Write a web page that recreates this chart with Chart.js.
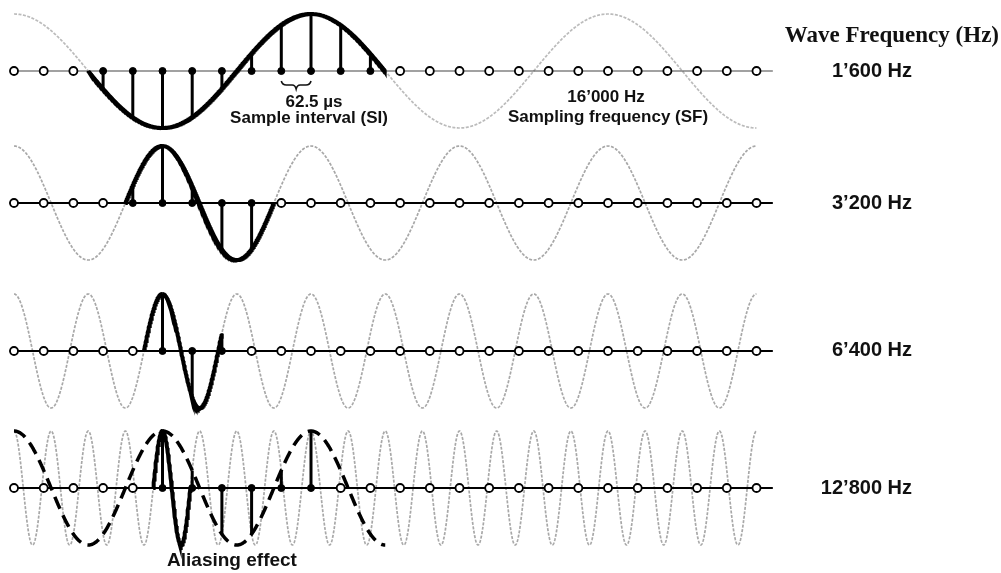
<!DOCTYPE html>
<html>
<head>
<meta charset="utf-8">
<script src="https://cdn.jsdelivr.net/npm/chart.js@4.4.1/dist/chart.umd.min.js"></script>
<style>
  body { margin: 0; background: #fff; }
  #wrap { width: 1001px; height: 573px; position: relative; }
</style>
</head>
<body>
<div id="wrap"><canvas id="aliasing"></canvas></div>
<script>
// sampling grid: 16'000 Hz -> one sample every 62.5 us
var samplingFreq = 16000;
var sampleIndex = [0, 1, 2, 3, 4, 5, 6, 7, 8, 9, 10, 11, 12, 13, 14, 15, 16, 17, 18, 19, 20, 21, 22, 23, 24, 25];

// the four test waves (one row each)
var waveFreqs = [1600, 3200, 6400, 12800];
var waveLabels = ['1\u2019600 Hz', '3\u2019200 Hz', '6\u2019400 Hz', '12\u2019800 Hz'];
// part of each wave drawn in bold, in sample units
var boldStart = [2.5, 3.75, 4.375, 4.6875];
var boldEnd = [12.5, 8.75, 7.0, 5.9375];
// samples shown with a stem and a filled dot
var sampledFirst = [3, 4, 5, 5];
var sampledLast = [12, 8, 7, 10];
// alias seen by the samples of the 12'800 Hz wave
var aliasFreq = 3200;
var aliasEnd = 12.5;

// layout (not data): row baselines in amplitude units
var rowBase = [0, -2.316, -4.912, -7.316];
var pxPerSample = 29.7, firstSamplePx = 14, pxPerUnit = 57, firstBasePx = 71;

function wave(f, t) {
    return Math.cos(2 * Math.PI * f / samplingFreq * t);
}

function curve(f, base, t0, t1) {
    var pts = [];
    var step = 0.01;
    for (var t = t0; t <= t1 + 1e-9; t += step) {
        pts.push({ x: t, y: base + wave(f, t) });
    }
    return pts;
}

var datasets = [];
waveFreqs.forEach(function (f, r) {
    var base = rowBase[r];
    var stems = [], filled = [], open = [];
    sampleIndex.forEach(function (k) {
        if (k >= sampledFirst[r] && k <= sampledLast[r]) {
            stems.push({ x: k, y: base }, { x: k, y: base + wave(f, k) }, { x: k, y: null });
            filled.push({ x: k, y: base });
        } else {
            open.push({ x: k, y: base });
        }
    });
    datasets.push({
        label: 'grey ' + f, data: curve(f, base, sampleIndex[0], sampleIndex[sampleIndex.length - 1]),
        borderColor: r === 0 ? 'rgba(120,120,120,0.5)' : 'rgba(110,110,110,0.6)',
        borderWidth: 1.7, borderDash: [3, 1.5], pointRadius: 0, order: 6
    });
    datasets.push({
        label: 'axis ' + f, data: [{ x: -0.15, y: base }, { x: 25.55, y: base }],
        borderColor: r === 0 ? '#444' : '#000', borderWidth: r === 0 ? 1.2 : 2, pointRadius: 0, order: 5
    });
    datasets.push({
        label: 'bold ' + f, data: curve(f, base, boldStart[r], boldEnd[r]),
        borderColor: '#000', borderWidth: 4, pointRadius: 0, order: 3
    });
    datasets.push({
        label: 'stems ' + f, data: stems, spanGaps: false,
        borderColor: '#000', borderWidth: 3, pointRadius: 0, order: 2
    });
    datasets.push({
        label: 'samples ' + f, data: filled, showLine: false,
        pointRadius: 3.5, pointBackgroundColor: '#000', pointBorderColor: '#000', pointBorderWidth: 1, order: 1
    });
    datasets.push({
        label: 'open ' + f, data: open, showLine: false,
        pointRadius: 4, pointBackgroundColor: '#fff', pointBorderColor: '#000', pointBorderWidth: 1.8, order: 0
    });
});
datasets.push({
    label: 'alias', data: curve(aliasFreq, rowBase[3], 0, aliasEnd),
    borderColor: '#000', borderWidth: 3.5, borderDash: [13, 7], pointRadius: 0, order: 4
});

var textPlugin = {
    id: 'texts',
    afterDatasetsDraw: function (chart) {
        var ctx = chart.ctx, xs = chart.scales.x, ys = chart.scales.y;
        ctx.save();
        ctx.fillStyle = '#111';
        ctx.textBaseline = 'middle';

        ctx.font = 'bold 23px "Liberation Serif", "Times New Roman", serif';
        ctx.textAlign = 'right';
        ctx.fillText('Wave Frequency (Hz)', 999, 36);

        ctx.font = 'bold 20px "Liberation Sans", Arial, sans-serif';
        waveLabels.forEach(function (lab, r) {
            ctx.fillText(lab, 912, ys.getPixelForValue(rowBase[r]));
        });

        ctx.textAlign = 'center';
        ctx.font = 'bold 17px "Liberation Sans", Arial, sans-serif';
        ctx.fillText('62.5 \u00b5s', 314, 102);
        ctx.fillText('16\u2019000 Hz', 606, 97);
        ctx.fillText('Sample interval (SI)', 309, 118);
        ctx.fillText('Sampling frequency (SF)', 608, 117);
        ctx.font = 'bold 19px "Liberation Sans", Arial, sans-serif';
        ctx.fillText('Aliasing effect', 232, 561);

        // curly brace under one sample interval
        var x1 = xs.getPixelForValue(9), x2 = xs.getPixelForValue(10);
        var mid = (x1 + x2) / 2, y0 = ys.getPixelForValue(rowBase[0]) + 10;
        ctx.strokeStyle = '#111';
        ctx.lineWidth = 1.6;
        ctx.beginPath();
        ctx.moveTo(x1, y0);
        ctx.quadraticCurveTo(x1 + 1, y0 + 4, x1 + 5, y0 + 4);
        ctx.lineTo(mid - 4, y0 + 4);
        ctx.quadraticCurveTo(mid - 1, y0 + 4, mid, y0 + 8);
        ctx.quadraticCurveTo(mid + 1, y0 + 4, mid + 4, y0 + 4);
        ctx.lineTo(x2 - 5, y0 + 4);
        ctx.quadraticCurveTo(x2 - 1, y0 + 4, x2, y0);
        ctx.stroke();
        ctx.restore();
    }
};

new Chart(document.getElementById('aliasing'), {
    type: 'line',
    data: { datasets: datasets },
    options: {
        responsive: true,
        maintainAspectRatio: false,
        animation: false,
        events: [],
        layout: { padding: 0, autoPadding: false },
        plugins: { legend: { display: false }, tooltip: { enabled: false } },
        elements: { line: { tension: 0 } },
        scales: {
            x: {
                type: 'linear', display: false,
                min: -firstSamplePx / pxPerSample,
                max: (1001 - firstSamplePx) / pxPerSample
            },
            y: {
                type: 'linear', display: false,
                max: firstBasePx / pxPerUnit,
                min: (firstBasePx - 573) / pxPerUnit
            }
        }
    },
    plugins: [textPlugin]
});
</script>
</body>
</html>
